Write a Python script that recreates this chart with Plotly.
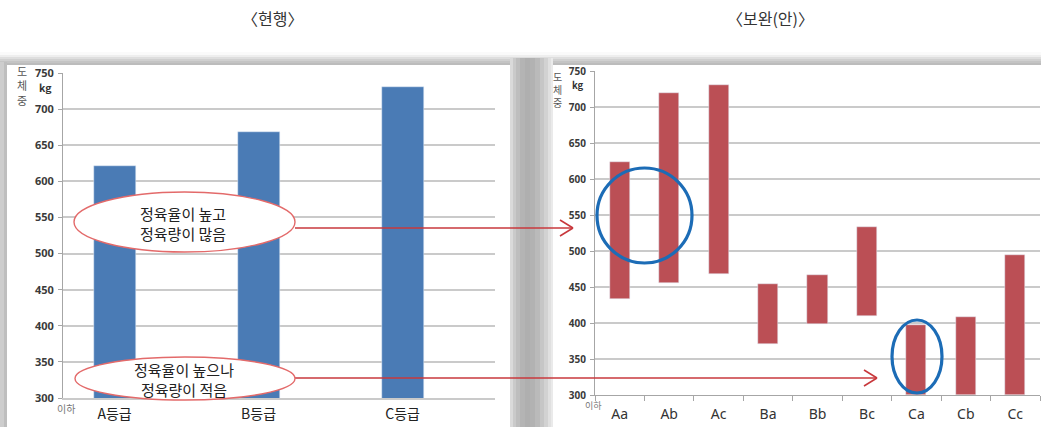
import plotly.graph_objects as go

# ---- data -------------------------------------------------------------
grades = ["A등급", "B등급", "C등급"]
grade_weight = [621, 668, 731]

sub_grades = ["Aa", "Ab", "Ac", "Ba", "Bb", "Bc", "Ca", "Cb", "Cc"]
weight_low = [434, 455, 468, 371, 398, 410, 300, 300, 300]
weight_high = [623, 720, 731, 454, 467, 533, 397, 409, 495]

y_ticks = [300, 350, 400, 450, 500, 550, 600, 650, 700, 750]

# ---- canvas helpers (pixel -> paper) ----------------------------------
W, H = 1041, 427


def px(x):
    return x / W


def py(y):
    return 1 - y / H


KR = "Noto Sans CJK KR"
BLUE = "#4a7bb5"
RED = "#bb4f55"
GRID = "#cacaca"

fig = go.Figure()

fig.add_trace(go.Bar(
    x=grades, y=grade_weight, marker_color=BLUE, width=0.292,
    xaxis="x", yaxis="y", showlegend=False,
))

fig.add_trace(go.Bar(
    x=sub_grades,
    y=[h - l for h, l in zip(weight_high, weight_low)],
    base=weight_low,
    marker_color=RED, width=0.405,
    xaxis="x2", yaxis="y2", showlegend=False,
))

shapes = []


def rect(x0, y0, x1, y1, color, layer="below", line=None):
    shapes.append(dict(
        type="rect", xref="paper", yref="paper",
        x0=px(x0), x1=px(x1), y0=py(y1), y1=py(y0),
        fillcolor=color, line=line or dict(width=0), layer=layer,
    ))


def gray(v):
    v = int(round(v))
    return f"rgb({v},{v},{v})"


# soft grey shading round the two chart panels
top_band = [(52, 250), (55, 238), (57, 222), (59, 208), (61, 196), (63, 188)]
for i, (yy, g) in enumerate(top_band):
    y_next = top_band[i + 1][0] if i + 1 < len(top_band) else 66
    rect(0, yy, W, y_next, gray(g))
rect(0, 62, 7, 427, gray(205))
rect(4, 62, 7, 427, gray(190))
gap = [(510, 218), (513, 202), (516, 190), (520, 180), (525, 175), (530, 178),
       (535, 186), (540, 198), (544, 210), (548, 224), (551, 234)]
for i, (xx, g) in enumerate(gap):
    x_next = gap[i + 1][0] if i + 1 < len(gap) else 553
    rect(xx, 58, x_next, 427, gray(g))

# white chart panels
rect(7, 65, 510, 424, "white")
rect(553, 65, W, 424, "white")


def ellipse(x0, y0, x1, y1, line_color, width, fill):
    shapes.append(dict(
        type="circle", xref="paper", yref="paper",
        x0=px(x0), x1=px(x1), y0=py(y1), y1=py(y0),
        line=dict(color=line_color, width=width), fillcolor=fill,
        layer="above",
    ))


def seg(x0, y0, x1, y1, color, width):
    shapes.append(dict(
        type="line", xref="paper", yref="paper",
        x0=px(x0), x1=px(x1), y0=py(y0), y1=py(y1),
        line=dict(color=color, width=width), layer="above",
    ))


ARROW = "#c8383c"


def arrow(x0, x1, y):
    seg(x0, y, x1, y, ARROW, 1.6)
    seg(x1 - 13, y - 8, x1, y, ARROW, 1.6)
    seg(x1 - 13, y + 8, x1, y, ARROW, 1.6)


arrow(295, 573, 228)
arrow(295, 877, 378)

# callout ellipses on the current-grade chart
ellipse(74, 192, 295, 252, "#e36a6a", 1.4, "white")
ellipse(75, 357, 295, 400, "#e36a6a", 1.4, "white")

# highlight rings on the proposed chart
ellipse(597, 168, 692, 263, "#1c6cb6", 3.2, "rgba(0,0,0,0)")
ellipse(892, 320, 942, 393, "#1c6cb6", 3.2, "rgba(0,0,0,0)")

annotations = []


def text(x, y, s, size, color="#333333", **kw):
    annotations.append(dict(
        x=px(x), y=py(y), xref="paper", yref="paper", text=s,
        showarrow=False, xanchor=kw.pop("xanchor", "center"),
        yanchor="middle", font=dict(family=KR, size=size, color=color,
                                    **kw.pop("font", {})),
        **kw,
    ))


text(272, 18, "〈현행〉", 16)
text(770, 18, "〈보완(안)〉", 16)

text(183, 223, "정육율이 높고<br>정육량이 많음", 15, "#222222")
text(184, 379, "정육율이 높으나<br>정육량이 적음", 15, "#222222")

text(22, 85, "도<br>체<br>중", 11, "#555555")
text(45, 87, "kg", 10.5, "#333333", font=dict(weight="bold"))
text(66, 408, "이하", 10, "#777777")

text(557, 89, "도<br>체<br>중", 10, "#555555")
text(578, 85, "kg", 9.5, "#333333", font=dict(weight="bold"))
text(593, 405, "이하", 9, "#777777")

y_common = dict(
    range=[300, 750], tickvals=y_ticks, showgrid=True, gridcolor=GRID,
    gridwidth=1.5, showline=True, linecolor="#a6a6a6", linewidth=1,
    ticks="outside", ticklen=4, tickcolor="#a6a6a6", zeroline=False,
    ticklabelstandoff=2, automargin=False,
)

fig.update_layout(
    width=W, height=H,
    margin=dict(l=0, r=0, t=0, b=0),
    paper_bgcolor="white", plot_bgcolor="rgba(0,0,0,0)",
    bargap=0, barmode="overlay",
    xaxis=dict(
        domain=[px(63), px(495)], anchor="y", type="category",
        range=[-0.358, 2.642], showgrid=False, showline=True,
        linecolor=GRID, linewidth=1.5, ticks="", automargin=False,
        tickfont=dict(family=KR, size=14, color="#222222"),
        ticklabelstandoff=2,
    ),
    yaxis=dict(
        domain=[py(398), py(73)], anchor="x",
        tickfont=dict(family="Noto Sans", size=11, color="#3a3a3a",
                      weight="bold"),
        **y_common,
    ),
    xaxis2=dict(
        domain=[px(595), px(1040)], anchor="y2", type="category",
        range=[-0.5, 8.5], showgrid=False, showline=True,
        linecolor="#a6a6a6", linewidth=1, ticks="outside",
        tickson="boundaries", ticklen=5, tickcolor="#a6a6a6",
        automargin=False,
        tickfont=dict(family="Noto Sans", size=14, color="#333333"),
        ticklabelstandoff=6,
    ),
    yaxis2=dict(
        domain=[py(395), py(71)], anchor="x2",
        tickfont=dict(family="Noto Sans", size=10, color="#3a3a3a",
                      weight="bold"),
        **y_common,
    ),
    shapes=shapes,
    annotations=annotations,
)

fig.write_html("out.html")
